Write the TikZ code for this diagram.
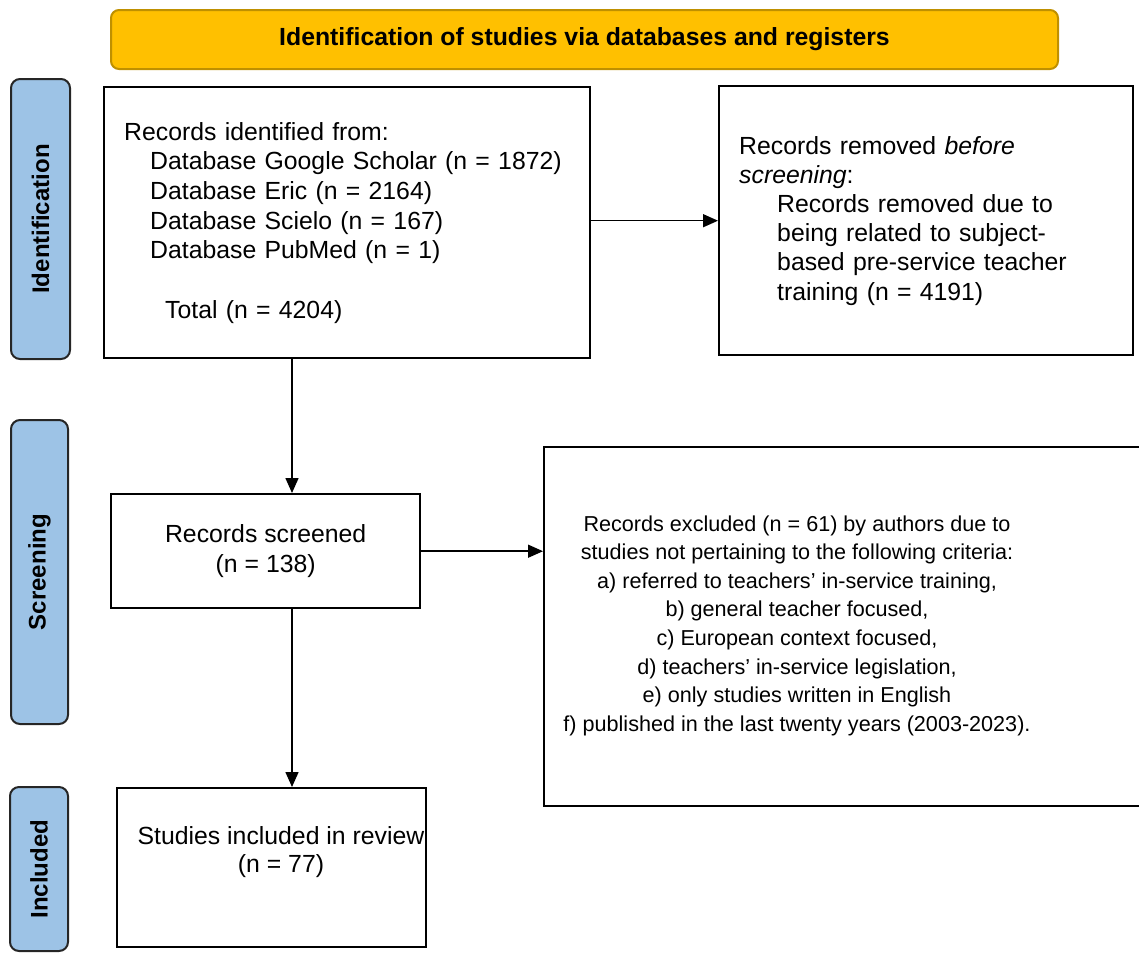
\documentclass[tikz,border=0pt]{standalone}
\usepackage{fontspec}
\setmainfont{Liberation Sans}
\usetikzlibrary{arrows.meta,positioning,calc}
\definecolor{gold}{HTML}{FFC000}
\definecolor{golddark}{HTML}{BF9000}
\definecolor{phaseblue}{HTML}{9DC3E6}
\tikzset{
    header/.style={
    rectangle,rounded corners=4pt,draw=golddark,fill=gold,line width=1pt,
    anchor=north west,font=\bfseries\fontsize{12.4}{14.85}\selectfont
    },
    phase/.style={
    rectangle,rounded corners=4.5pt,draw=black!85,fill=phaseblue,line width=1pt,
    anchor=north west,font=\bfseries\fontsize{12}{14}\selectfont
    },
    record/.style={
    rectangle,draw=black,line width=1.2pt,anchor=north west,inner xsep=10pt,
    font=\fontsize{12.4}{14.85}\selectfont
    },
    flow/.style={
    -{Triangle[length=7.5pt,width=6.5pt]},line width=0.75pt
    },
}
\begin{document}
\begin{tikzpicture}[x=0.5pt,y=-0.5pt]
   \useasboundingbox (0,0) rectangle (1139,954);
   % banner and phases
   \node[header,minimum width=473.5pt,minimum height=29.5pt] (H) at (110,9)
     {Identification of studies via databases and registers};
   \node[phase,minimum width=29.5pt,minimum height=140pt] (I) at (10,78) {};
   \node[rotate=90,font=\bfseries\fontsize{12}{14}\selectfont] (It) at (I.center) {Identification};
   \node[phase,minimum width=28.5pt,minimum height=152pt] (S) at (10,419) {};
   \node[rotate=90,font=\bfseries\fontsize{12}{14}\selectfont] (St) at (S.center) {Screening};
   \node[phase,minimum width=29pt,minimum height=82pt] (N) at (9,786) {};
   \node[rotate=90,font=\bfseries\fontsize{12}{14}\selectfont] (Nt) at (N.center) {Included};

   % records
   \node[record,minimum width=243pt,minimum height=135.5pt,text width=223pt,align=left] (R0) at (103,86)
     {Records identified from:\\
      \hspace*{13pt}Database Google Scholar (n = 1872)\\
      \hspace*{13pt}Database Eric (n = 2164)\\
      \hspace*{13pt}Database Scielo (n = 167)\\
      \hspace*{13pt}Database PubMed (n = 1)\\[14.85pt]
      \hspace*{20.5pt}Total (n = 4204)};
   \node[record,minimum width=207pt,minimum height=134.5pt,text width=187pt,align=left,
     font=\fontsize{12.4}{14.6}\selectfont] (R1) at (718,85)
     {Records removed \textit{before}\\
      \textit{screening}:\\
      \hspace*{19pt}Records removed due to\\
      \hspace*{19pt}being related to subject-\\
      \hspace*{19pt}based pre-service teacher\\
      \hspace*{19pt}training (n = 4191)};
   \node[record,minimum width=154.5pt,minimum height=57pt,align=center,
     font=\fontsize{12.4}{15}\selectfont] (R2) at (110,493)
     {Records screened\\(n = 138)};
   \node[record,minimum width=310pt,minimum height=179.5pt] (R3) at (543,446) {};
   \node[align=center,font=\fontsize{10.8}{14.3}\selectfont] (R3t) at (797,625.5)
     {Records excluded (n = 61) by authors due to\\
      studies not pertaining to the following criteria:\\
      a) referred to teachers’ in-service training,\\
      b) general teacher focused,\\
      c) European context focused,\\
      d) teachers’ in-service legislation,\\
      e) only studies written in English\\
      f) published in the last twenty years (2003-2023).};
   \node[record,minimum width=154.5pt,minimum height=79.5pt] (R4) at (116,787) {};
   \node[align=center,font=\fontsize{12.4}{14}\selectfont] (R4t) at (281,852)
     {Studies included in review\\(n = 77)};

   \coordinate (spine) at (292,0);
   \path[flow]
     (R0.east |- R1.west) edge (R1.west)
     (R0.south -| spine) edge (R2.north -| spine)
     (R2.east) edge (R2.east -| R3.west)
     (R2.south -| spine) edge (R4.north -| spine);
\end{tikzpicture}
\end{document}
